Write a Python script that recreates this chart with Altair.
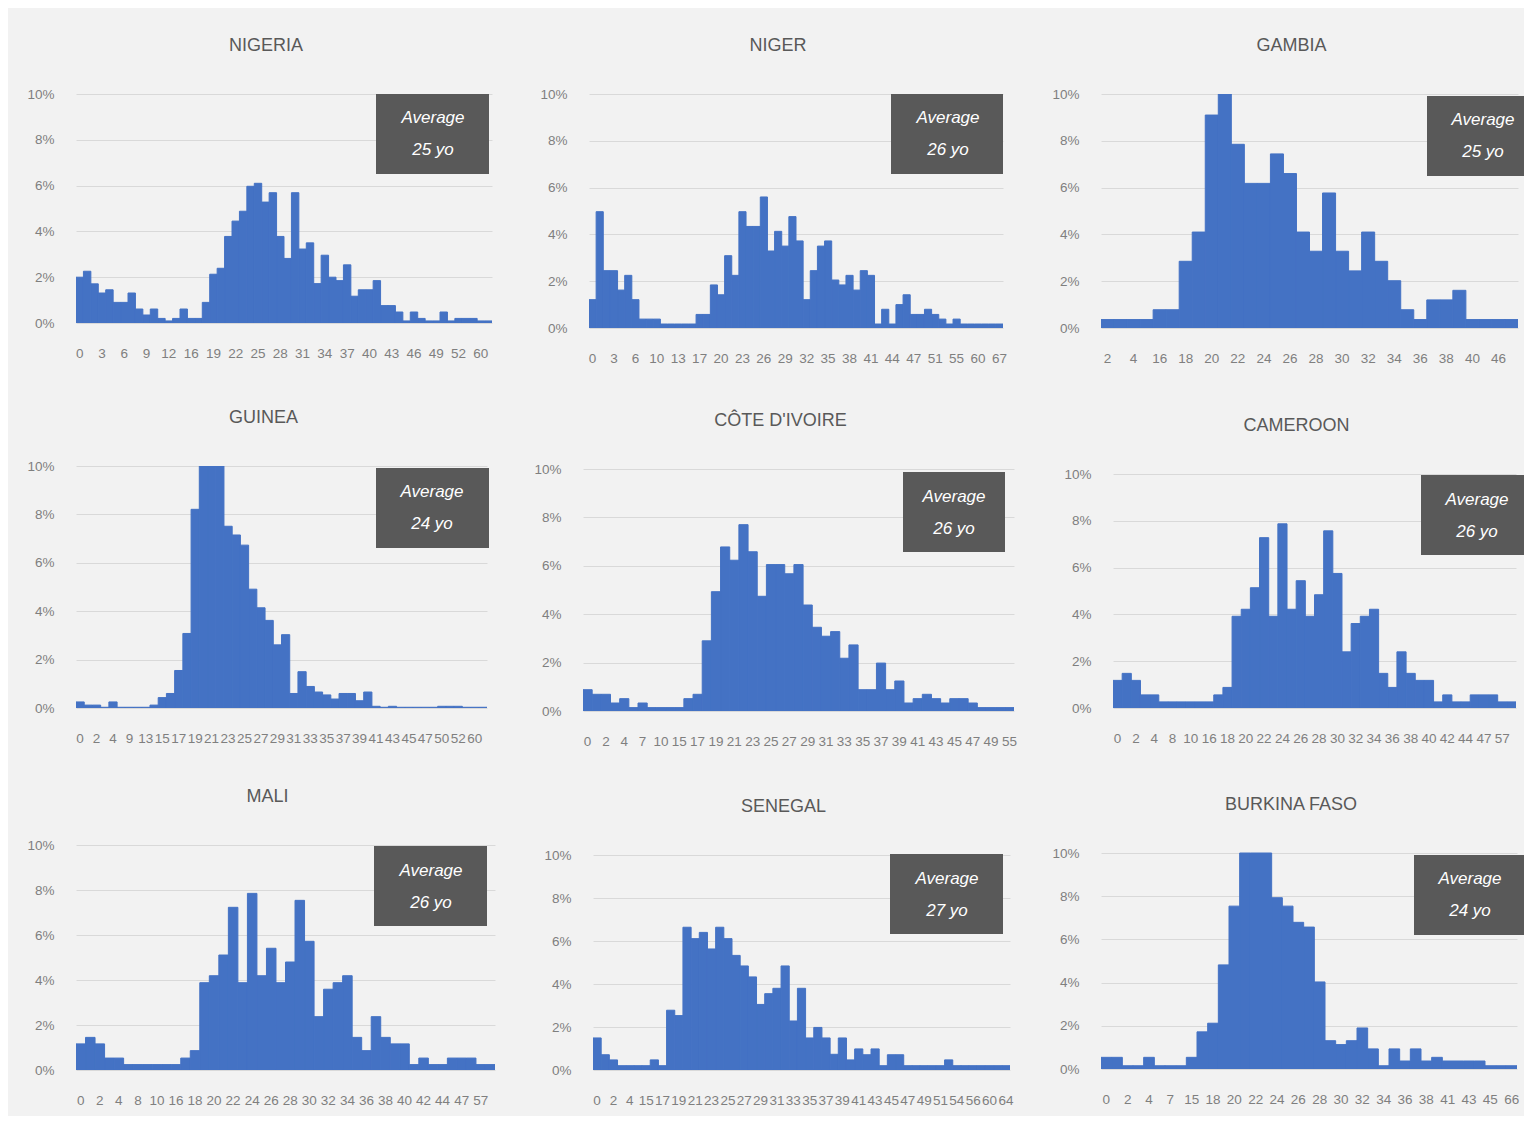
import altair as alt
import pandas as pd

# ---------------- data ----------------
countries = ["NIGERIA", "NIGER", "GAMBIA", "GUINEA", "CÔTE D'IVOIRE", "CAMEROON",
             "MALI", "SENEGAL", "BURKINA FASO"]
averages = [25, 26, 25, 24, 26, 26, 26, 27, 24]

nigeria_age = list(range(0, 13)) + [13, 14] + list(range(16, 53)) + [54, 57, 60, 63]
nigeria_pct = [2.0, 2.26, 1.71, 1.31, 1.45, 0.9, 0.9, 1.31, 0.61, 0.35,
               0.61, 0.2, 0.09, 0.2, 0.61, 0.2, 0.2, 0.9, 2.13, 2.39,
               3.78, 4.45, 4.88, 5.97, 6.1, 5.28, 5.69, 3.78, 2.82, 5.69,
               3.23, 3.5, 1.72, 2.96, 2.0, 1.85, 2.54, 1.17, 1.45, 1.45,
               1.85, 0.76, 0.76, 0.48, 0.09, 0.48, 0.2, 0.09, 0.09, 0.48,
               0.09, 0.2, 0.2, 0.2, 0.09, 0.09]

niger_age = list(range(0, 9)) + [10, 11, 12, 13, 14, 16] + list(range(17, 48)) + \
    [48, 50, 51, 52, 54, 55, 56, 58, 60, 62, 65, 67]
niger_pct = [1.21, 4.97, 2.45, 2.45, 1.62, 2.25, 1.21, 0.38, 0.38, 0.38,
             0.17, 0.17, 0.17, 0.17, 0.17, 0.58, 0.58, 1.84, 1.42, 3.09,
             2.25, 4.97, 4.34, 4.34, 5.6, 3.29, 4.13, 3.5, 4.76, 3.72,
             1.21, 2.45, 3.5, 3.72, 2.05, 1.84, 2.25, 1.62, 2.45, 2.25,
             0.17, 0.8, 0.17, 1.0, 1.42, 0.58, 0.58, 0.8, 0.58, 0.38,
             0.17, 0.38, 0.17, 0.17, 0.17, 0.17, 0.17, 0.17]

gambia_age = [2, 3, 4, 12] + list(range(16, 41)) + [43, 46, 50]
gambia_pct = [0.36, 0.36, 0.36, 0.36, 0.78, 0.78, 2.85, 4.1, 9.1, 10.0,
              7.85, 6.18, 6.18, 7.44, 6.6, 4.1, 3.28, 5.77, 3.28, 2.44,
              4.1, 2.85, 2.02, 0.78, 0.36, 1.2, 1.2, 1.61, 0.36, 0.36,
              0.36, 0.36]

guinea_age = [0, 1, 2, 3, 4, 6, 9, 11] + list(range(13, 48)) + [48, 50, 51, 52, 55, 60, 65]
guinea_pct = [0.25, 0.12, 0.12, 0.03, 0.25, 0.03, 0.03, 0.03, 0.03, 0.12,
              0.43, 0.6, 1.55, 3.08, 8.21, 10.0, 10.0, 10.0, 7.51, 7.15,
              6.73, 4.91, 4.14, 3.62, 2.61, 3.03, 0.6, 1.5, 0.89, 0.66,
              0.54, 0.37, 0.6, 0.6, 0.3, 0.66, 0.07, 0.03, 0.07, 0.03,
              0.03, 0.03, 0.03, 0.03, 0.07, 0.07, 0.07, 0.03, 0.03, 0.03]

cote_age = [0, 1, 2, 3, 4, 5, 7, 8, 10, 12] + list(range(15, 50)) + [51, 55]
cote_pct = [0.88, 0.69, 0.69, 0.33, 0.51, 0.14, 0.33, 0.14, 0.14, 0.14,
            0.14, 0.51, 0.69, 2.9, 4.93, 6.78, 6.23, 7.7, 6.58, 4.74,
            6.05, 6.05, 5.67, 6.05, 4.38, 3.46, 3.09, 3.28, 2.18, 2.73,
            0.88, 0.88, 1.98, 0.88, 1.24, 0.33, 0.51, 0.69, 0.51, 0.33,
            0.51, 0.51, 0.33, 0.14, 0.14, 0.14, 0.14]

cameroon_age = [0, 1, 2, 3, 4, 6, 8, 9, 10, 13] + list(range(16, 45)) + [45, 47, 50, 57, 60]
cameroon_pct = [1.18, 1.48, 1.18, 0.56, 0.56, 0.26, 0.26, 0.26, 0.26, 0.26,
                0.26, 0.56, 0.88, 3.92, 4.22, 5.14, 7.28, 3.92, 7.87, 4.22,
                5.44, 3.92, 4.84, 7.57, 5.75, 2.4, 3.61, 3.92, 4.22, 1.48,
                0.88, 2.4, 1.48, 1.18, 1.18, 0.26, 0.56, 0.26, 0.26, 0.56,
                0.56, 0.56, 0.26, 0.26]

mali_age = [0, 1, 2, 3, 4, 6, 8, 9, 10, 13] + list(range(16, 45)) + [45, 47, 50, 57, 60]
mali_pct = [1.16, 1.45, 1.16, 0.53, 0.53, 0.24, 0.24, 0.24, 0.24, 0.24,
            0.24, 0.53, 0.86, 3.88, 4.19, 5.11, 7.23, 3.88, 7.85, 4.19,
            5.41, 3.88, 4.8, 7.54, 5.72, 2.37, 3.59, 3.88, 4.19, 1.45,
            0.86, 2.37, 1.45, 1.16, 1.16, 0.24, 0.53, 0.24, 0.24, 0.53,
            0.53, 0.53, 0.24, 0.24]

senegal_age = [0, 1, 2, 3, 4, 10] + list(range(15, 52)) + [53, 54, 55, 56, 58, 60, 62, 64]
senegal_pct = [1.49, 0.71, 0.47, 0.2, 0.2, 0.2, 0.2, 0.47, 0.2, 2.78,
               2.53, 6.64, 6.11, 6.4, 5.63, 6.64, 6.11, 5.33, 4.84, 4.33,
               3.05, 3.55, 3.8, 4.84, 2.28, 3.8, 1.49, 1.98, 1.49, 0.73,
               1.49, 0.47, 0.98, 0.71, 0.98, 0.2, 0.71, 0.71, 0.2, 0.2,
               0.2, 0.2, 0.2, 0.47, 0.2, 0.2, 0.2, 0.2, 0.2, 0.2,
               0.2]

burkina_age = [0, 1, 2, 3, 4, 5, 7, 12, 15, 17] + list(range(18, 39)) + [40, 41, 42, 43, 44, 45, 50, 66]
burkina_pct = [0.54, 0.54, 0.15, 0.15, 0.54, 0.15, 0.15, 0.15, 0.54, 1.72,
               2.12, 4.82, 7.54, 10.0, 10.0, 10.0, 7.93, 7.54, 6.79, 6.57,
               4.03, 1.31, 1.13, 1.31, 1.9, 0.93, 0.15, 0.93, 0.37, 0.93,
               0.37, 0.54, 0.37, 0.37, 0.37, 0.37, 0.15, 0.15, 0.15]

ages = [nigeria_age, niger_age, gambia_age, guinea_age, cote_age, cameroon_age,
        mali_age, senegal_age, burkina_age]
pcts = [nigeria_pct, niger_pct, gambia_pct, guinea_pct, cote_pct, cameroon_pct,
        mali_pct, senegal_pct, burkina_pct]
label_step = [3, 3, 2, 2, 2, 2, 2, 2, 2]
y_ticks = [0, 2, 4, 6, 8, 10]

# ---------------- layout / style ----------------
BLUE = "#4472C4"
GRID = "#d9d9d9"
LABEL = "#7f7f7f"
TITLE = "#595959"
BOXC = "#595959"
BG = "#f2f2f2"
FONT = "Liberation Sans"

# plot-area left, top, width, height (page pixels)
geom = [(76, 94, 416, 229), (589, 94, 414, 234), (1101, 94, 417, 234),
        (76, 466, 411, 242), (583, 469, 431, 242), (1113, 474, 403, 234),
        (76, 845, 419, 225), (593, 855, 417, 215), (1101, 853, 416, 216)]
ROW_BASE = [94, 466, 845]
# average box: x0, x1, y0, y1, text-x, line1-y, line2-y (relative to plot area)
boxes = [(300, 413, 0, 80, 357, 24, 56), (302, 414, 0, 80, 359, 24, 56),
         (326, 423, 2, 82, 382, 26, 58), (300, 413, 2, 82, 356, 26, 58),
         (320, 422, 3, 83, 371, 28, 60), (308, 411, 1, 81, 364, 26, 58),
         (298, 411, 1, 81, 355, 26, 58), (297, 410, -1, 79, 354, 24, 56),
         (313, 423, 2, 82, 369, 26, 58)]
CX = [8, 520, 1040, 1524]
ROW_TOP = [8, 390, 770]
ROW_BOT = [390, 770, 1116]


def panel(i):
    pl, pt, w, h = geom[i]
    r, c = divmod(i, 3)
    base = ROW_BASE[r]
    dy = pt - base
    cats = [str(a) for a in ages[i]]
    df = pd.DataFrame({"age": cats, "pct": pcts[i]})
    shown = cats[::label_step[i]]
    shown_js = "[" + ",".join("'" + s + "'" for s in shown) + "]"

    bars = alt.Chart(df).mark_bar(color=BLUE, stroke=BLUE, strokeWidth=1, clip=True).encode(
        x=alt.X("age:N", sort=cats,
                scale=alt.Scale(paddingInner=0, paddingOuter=0),
                axis=alt.Axis(labelExpr="indexof(" + shown_js + ", datum.label) >= 0 ? datum.label : ''",
                              labelAngle=0, ticks=False, tickSize=0,
                              domain=False, grid=False, labelPadding=23,
                              labelOverlap=False, labelBound=False, labelFlush=False,
                              title=None, labelFontSize=13.5,
                              labelColor=LABEL, labelFont=FONT)),
        y=alt.Y("pct:Q", scale=alt.Scale(domain=[0, 10], nice=False, range=[h + dy, dy]),
                axis=alt.Axis(values=y_ticks, labelExpr="datum.value + '%'",
                              ticks=False, tickSize=0, domain=False, grid=True,
                              gridColor=GRID, gridWidth=1.2, labelPadding=22, title=None,
                              labelFontSize=13.5, labelColor=LABEL, labelFont=FONT)),
    )

    one = pd.DataFrame({"name": [countries[i]], "avg": [f"{averages[i]} yo"]})
    frame = alt.Chart(one).mark_rect(opacity=0).encode(
        x=alt.value(CX[c] - pl), x2=alt.value(CX[c + 1] - pl),
        y=alt.value(ROW_TOP[r] - base), y2=alt.value(ROW_BOT[r] - base))
    title = alt.Chart(one).mark_text(fontSize=18, font=FONT, color=TITLE,
                                     baseline="middle", align="center").encode(
        text="name:N", x=alt.value(w / 2 - 18), y=alt.value(dy - 48))
    bx0, bx1, by0, by1, tx, ty1, ty2 = boxes[i]
    box = alt.Chart(one).mark_rect(color=BOXC).encode(
        x=alt.value(bx0), x2=alt.value(bx1), y=alt.value(by0 + dy), y2=alt.value(by1 + dy))
    t1 = alt.Chart(one).mark_text(text="Average", fontSize=17, font=FONT, fontStyle="italic",
                                  color="white", baseline="middle", align="center").encode(
        x=alt.value(tx), y=alt.value(ty1 + dy))
    t2 = alt.Chart(one).mark_text(fontSize=17, font=FONT, fontStyle="italic",
                                  color="white", baseline="middle", align="center").encode(
        text="avg:N", x=alt.value(tx), y=alt.value(ty2 + dy))
    return alt.layer(frame, bars, title, box, t1, t2).properties(width=w, height=h + dy)


rows = [alt.hconcat(*[panel(3 * r + c) for c in range(3)], spacing=0) for r in range(3)]
chart = alt.vconcat(*rows, spacing=0).properties(
    padding=0, background=BG
).configure(font=FONT).configure_view(stroke="transparent", strokeWidth=0)

chart.save("out.html", embed_options={"renderer": "svg", "actions": False})
